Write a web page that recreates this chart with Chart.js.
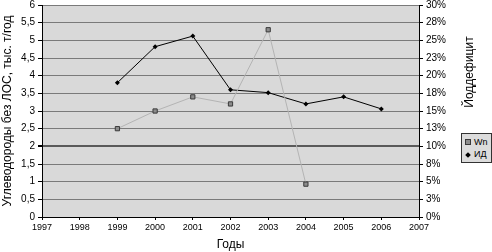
<!DOCTYPE html>
<html>
<head>
<meta charset="utf-8">
<script src="https://cdn.jsdelivr.net/npm/chart.js@4"></script>
<style>
  html, body { margin: 0; padding: 0; background: #fff; }
  #wrap { position: relative; width: 492px; height: 252px; }
  #legend {
    position: absolute; left: 461px; top: 133px; width: 27px;
    background: #dcdcdc; border: 1px solid #333;
    font: 9px "Liberation Sans", Arial, sans-serif; color: #000;
    padding: 2px 0 2px 2px; line-height: 12px;
  }
  #legend .item { white-space: nowrap; }
  #legend .mk { display: inline-block; width: 5px; height: 5px; margin: 0 3px 0 1px; vertical-align: 0; }
</style>
</head>
<body>
<div id="wrap">
  <canvas id="chart" width="492" height="252"></canvas>
  <div id="legend"></div>
</div>
<script>
(function() {
  'use strict';

  // ── Data ────────────────────────────────────────────────────
  const wnYears = [1999, 2000, 2001, 2002, 2003, 2004];
  const wnValues = [2.5, 3.0, 3.4, 3.2, 5.3, 0.93];
  const idYears = [1999, 2000, 2001, 2002, 2003, 2004, 2005, 2006];
  const idPercent = [19.0, 24.1, 25.6, 18.0, 17.6, 16.0, 17.0, 15.3];
  const seriesNames = ['Wn', 'ИД'];
  const axisTitles = {
    x: 'Годы',
    left: 'Углеводороды без ЛОС, тыс. т/год',
    right: 'Йоддефицит'
  };

  const FONT = '"Liberation Sans", Arial, sans-serif';
  const $ = id => document.getElementById(id);

  // plot background + rotated right title
  const decor = {
    id: 'decor',
    beforeDraw(chart) {
      const a = chart.chartArea, c = chart.ctx;
      c.save();
      c.fillStyle = '#d9d9d9';
      c.fillRect(a.left, a.top, a.right - a.left, a.bottom - a.top);
      c.restore();
    },
    afterDraw(chart) {
      const c = chart.ctx;
      c.save();
      c.translate(470, 72);
      c.rotate(-Math.PI / 2);
      c.font = '12px ' + FONT;
      c.fillStyle = '#000';
      c.textAlign = 'center';
      c.textBaseline = 'middle';
      c.fillText(axisTitles.right, 0, 0);
      c.restore();
    }
  };

  const noPad = s => { s.paddingTop = 0; s.paddingBottom = 0; };

  const ctx = $('chart').getContext('2d');
  const chart = new Chart(ctx, {
    type: 'line',
    data: {
      datasets: [{
        label: seriesNames[0],
        data: wnYears.map((y, i) => ({ x: y, y: wnValues[i] })),
        yAxisID: 'y',
        borderColor: '#b4b4b4',
        borderWidth: 1,
        pointStyle: 'rect',
        pointRadius: 3,
        pointBackgroundColor: '#8c8c8c',
        pointBorderColor: '#3a3a3a',
        pointBorderWidth: 1
      }, {
        label: seriesNames[1],
        data: idYears.map((y, i) => ({ x: y, y: idPercent[i] })),
        yAxisID: 'y2',
        borderColor: '#000',
        borderWidth: 1,
        pointStyle: 'rectRot',
        pointRadius: 2.5,
        pointBackgroundColor: '#000',
        pointBorderColor: '#000',
        pointBorderWidth: 0
      }]
    },
    options: {
      responsive: false,
      animation: false,
      layout: { padding: { top: 4, left: 0, right: 0, bottom: 0 } },
      plugins: {
        legend: { display: false },
        tooltip: { enabled: false }
      },
      scales: {
        x: {
          type: 'linear',
          min: 1997, max: 2007,
          afterFit: s => { s.height = 35; },
          ticks: {
            stepSize: 1,
            color: '#000',
            font: { size: 9, family: FONT },
            padding: 2,
            maxRotation: 0,
            callback: v => String(v)
          },
          grid: { drawOnChartArea: false, drawTicks: true, tickLength: 3, color: '#000' },
          border: { color: '#000' },
          title: {
            display: true, text: axisTitles.x,
            color: '#000', font: { size: 12, family: FONT },
            padding: { top: 6, bottom: 0 }
          }
        },
        y: {
          position: 'left',
          min: 0, max: 6,
          afterFit: s => { s.width = 42; noPad(s); },
          ticks: {
            stepSize: 0.5,
            color: '#000',
            font: { size: 10, family: FONT },
            padding: 3,
            callback: v => String(v).replace('.', ',')
          },
          grid: {
            color: c => c.tick && c.tick.value === 2 ? '#5a5a5a' : '#7a7a7a',
            lineWidth: c => c.tick && c.tick.value === 2 ? 2 : 1,
            tickLength: 4,
            tickColor: '#000'
          },
          border: { color: '#000' },
          title: {
            display: true, text: axisTitles.left,
            color: '#000', font: { size: 12, family: FONT },
            padding: 0
          }
        },
        y2: {
          position: 'right',
          min: 0, max: 30,
          afterFit: s => { s.width = 73; noPad(s); },
          ticks: {
            stepSize: 2.5,
            color: '#000',
            font: { size: 10, family: FONT },
            padding: 3,
            callback: v => Math.round(v) + '%'
          },
          grid: { drawOnChartArea: false, tickLength: 4, color: '#000' },
          border: { color: '#000' }
        }
      }
    },
    plugins: [decor]
  });

  // ── HTML legend ─────────────────────────────────────────────
  const legend = $('legend');
  chart.data.datasets.forEach((ds, i) => {
    const row = document.createElement('div');
    row.className = 'item';
    const mk = document.createElement('span');
    mk.className = 'mk';
    if (i === 0) {
      mk.style.background = ds.pointBackgroundColor;
      mk.style.border = '1px solid ' + ds.pointBorderColor;
      mk.style.width = '4px'; mk.style.height = '4px';
    } else {
      mk.style.background = '#000';
      mk.style.width = '4px'; mk.style.height = '4px';
      mk.style.transform = 'rotate(45deg)';
      mk.style.margin = '0 4px 0 2px';
    }
    row.appendChild(mk);
    row.appendChild(document.createTextNode(ds.label));
    legend.appendChild(row);
  });
})();
</script>
</body>
</html>
